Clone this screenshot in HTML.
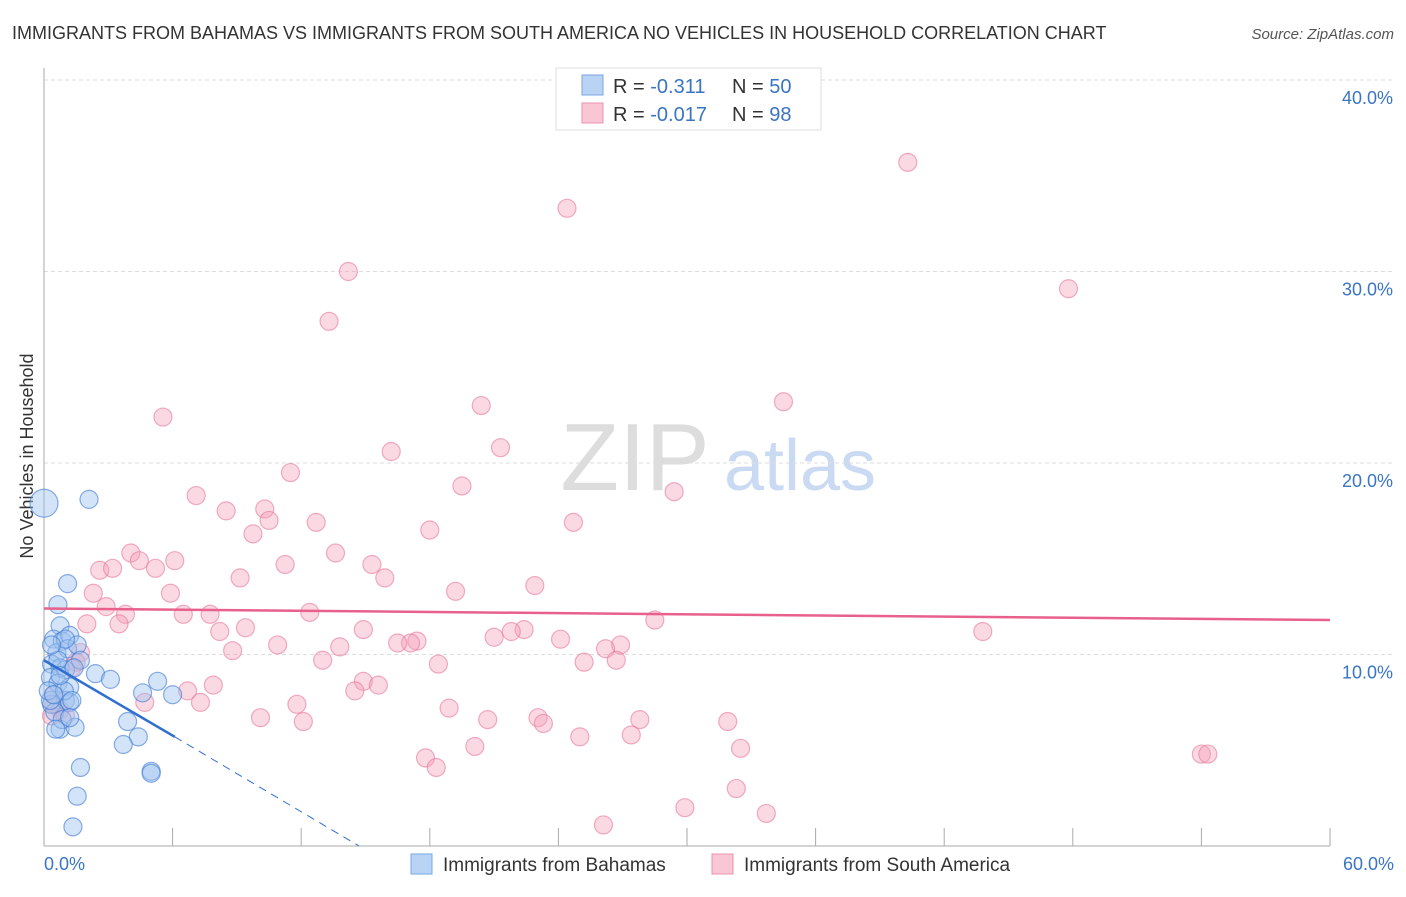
<!DOCTYPE html>
<html><head><meta charset="utf-8"><style>
body{margin:0;background:#fff;font-family:"Liberation Sans",sans-serif;}
svg text{font-family:"Liberation Sans",sans-serif;}
</style></head><body>
<svg width="1406" height="892" xmlns="http://www.w3.org/2000/svg">
<text x="12" y="39" font-size="18" fill="#333">IMMIGRANTS FROM BAHAMAS VS IMMIGRANTS FROM SOUTH AMERICA NO VEHICLES IN HOUSEHOLD CORRELATION CHART</text>
<text x="1394" y="39" font-size="15" fill="#555" font-style="italic" text-anchor="end">Source: ZipAtlas.com</text>
<g><text x="635" y="490" font-size="96" fill="#ddd" font-family="Liberation Serif" text-anchor="middle">ZIP</text><text x="800" y="490" font-size="72" fill="#c9daf2" text-anchor="middle">atlas</text></g>
<g id="grid"></g>
<line x1="44" y1="68" x2="44" y2="846" stroke="#aaa"/>
<line x1="44" y1="846" x2="1330" y2="846" stroke="#aaa"/>
<text transform="translate(33,456) rotate(-90)" font-size="18" fill="#333" text-anchor="middle">No Vehicles in Household</text>
<text x="44" y="870" font-size="18" fill="#3a75c4">0.0%</text>
<text x="1394" y="870" font-size="18" fill="#3a75c4" text-anchor="end">60.0%</text>
<g id="pts"></g>
<g id="trends"></g>
<g>
<rect x="556" y="68" width="265" height="62" fill="#fff" stroke="#ddd"/>
<rect x="582" y="75" width="21" height="20" fill="#b9d3f4" stroke="#7aa6e0"/>
<rect x="582" y="103" width="21" height="20" fill="#f9c6d5" stroke="#ec93ae"/>
<text x="613" y="93" font-size="20" fill="#333">R = <tspan fill="#3a75c4"> -0.311</tspan><tspan x="732">N = </tspan><tspan fill="#3a75c4">50</tspan></text>
<text x="613" y="121" font-size="20" fill="#333">R = <tspan fill="#3a75c4">-0.017</tspan><tspan x="732">N = </tspan><tspan fill="#3a75c4">98</tspan></text>
</g>
<g>
<rect x="411" y="854" width="21" height="20" fill="#b9d3f4" stroke="#7aa6e0"/>
<text x="443" y="871" font-size="19" fill="#333">Immigrants from Bahamas</text>
<rect x="712" y="854" width="21" height="20" fill="#f9c6d5" stroke="#ec93ae"/>
<text x="744" y="871" font-size="19" fill="#333">Immigrants from South America</text>
</g>
</svg>
<script>
const yTicks=[10,20,30,40];
const yTickLabels=["10.0%","20.0%","30.0%","40.0%"];
const xTicks=[6,12,18,24,30,36,42,48,54,60];
const blueX=[0,2.1,1.1,0.65,0.75,0.45,0.85,1.2,0.6,1.1,1.55,0.35,0.75,1.0,0.3,0.65,1.2,2.4,3.1,4.6,5.3,6.0,3.9,4.4,3.7,5.0,5.0,1.7,1.55,1.35,0.75,1.45,1.0,1.2,0.35,0.5,0.85,0.3,0.2,0.65,1.0,0.35,1.7,0.95,1.3,0.55,1.2,0.75,0.45,1.4];
const blueY=[17.9,18.1,13.7,12.6,11.5,10.8,10.7,11.0,10.1,10.3,10.5,9.5,9.3,9.2,8.8,8.5,8.3,9.0,8.7,8.0,8.6,7.9,6.5,5.7,5.3,3.9,3.8,4.1,2.6,1.0,6.1,6.2,7.6,7.5,7.4,7.0,6.6,7.6,8.1,9.7,10.8,10.5,9.7,8.1,7.6,6.1,6.7,8.9,7.9,9.3];
const pinkX=[40.3,24.4,14.2,47.8,13.3,5.55,34.5,20.4,16.2,21.3,29.4,11.5,19.5,7.1,8.5,10.3,10.5,24.7,18.0,9.75,12.7,13.6,4.05,4.45,5.2,6.1,2.6,3.2,15.3,15.9,9.15,11.25,22.9,19.2,5.9,2.3,2.9,3.8,7.75,6.5,12.4,3.5,2.0,28.5,43.8,8.2,9.4,14.9,22.4,21.8,21.0,24.1,17.4,17.1,16.5,10.9,8.8,13.8,26.9,26.2,26.7,25.2,13.0,18.4,1.7,1.5,1.3,14.9,15.6,14.5,7.9,6.7,7.3,4.7,11.8,18.9,10.1,12.1,20.7,23.05,23.3,27.8,31.9,25.0,27.4,32.5,20.1,17.8,18.3,32.3,29.9,33.7,26.1,54.0,54.3,0.45,0.75,1.0,0.35,0.5];
const pinkY=[35.7,33.3,30.0,29.1,27.4,22.4,23.2,23.0,20.6,20.8,18.5,19.5,18.8,18.3,17.5,17.6,17.0,16.9,16.5,16.3,16.9,15.3,15.3,14.9,14.5,14.9,14.4,14.5,14.7,14.0,14.0,14.7,13.6,13.3,13.2,13.2,12.5,12.1,12.1,12.1,12.2,11.6,11.6,11.8,11.2,11.2,11.4,11.3,11.3,11.2,10.9,10.8,10.7,10.6,10.6,10.5,10.2,10.4,10.5,10.3,9.7,9.6,9.7,9.5,10.1,9.6,9.3,8.6,8.4,8.1,8.4,8.1,7.5,7.5,7.4,7.2,6.7,6.5,6.6,6.7,6.4,6.6,6.5,5.7,5.8,5.1,5.2,4.6,4.1,3.0,2.0,1.7,1.1,4.8,4.8,7.9,7.1,6.8,6.8,7.4];
const blueTrend=[[0,9.7],[6.1,5.7]];
const blueTrendExt=[[6.1,5.7],[14.7,0]];
const pinkTrend=[[0,12.4],[60,11.8]];
const X=v=>44+v*(1286/60);
const Y=v=>846-v*19.15;
const NS="http://www.w3.org/2000/svg";
function mk(t,a,p){const e=document.createElementNS(NS,t);for(const k in a)e.setAttribute(k,a[k]);p.appendChild(e);return e;}
const grid=document.getElementById('grid');
yTicks.forEach((v,i)=>{
 const l=mk('line',{x1:44,x2:1394,y1:Y(v),y2:Y(v),stroke:'#ddd','stroke-dasharray':'4,3'},grid);
 
 
 const t=mk('text',{x:1393,y:Y(v)+24,'font-size':18,fill:'#3a75c4','text-anchor':'end'},grid);
 t.textContent=yTickLabels[i];
 
 
});
xTicks.forEach(v=>{
 const l=mk('line',{x1:X(v),x2:X(v),y1:828,y2:846,stroke:'#aaa'},grid);
 
 
});
const pts=document.getElementById('pts');
pinkX.forEach((x,i)=>{
 const c=mk('circle',{cx:X(x),cy:Y(pinkY[i]),r:9,fill:'rgba(244,160,185,0.4)',stroke:'rgba(232,120,155,0.6)','stroke-width':1.2},pts);
 
 
});
blueX.forEach((x,i)=>{
 const c=mk('circle',{cx:X(x),cy:Y(blueY[i]),r:i===0?14:9,fill:'rgba(160,195,240,0.45)',stroke:'rgba(60,120,210,0.6)','stroke-width':1.2},pts);
 
 
});
const tr=document.getElementById('trends');
const pl=mk('line',{x1:X(pinkTrend[0][0]),y1:Y(pinkTrend[0][1]),x2:X(pinkTrend[1][0]),y2:Y(pinkTrend[1][1]),stroke:'#e8608c','stroke-width':2.5},tr);


const bl=mk('line',{x1:X(blueTrend[0][0]),y1:Y(blueTrend[0][1]),x2:X(blueTrend[1][0]),y2:Y(blueTrend[1][1]),stroke:'#2f6fd0','stroke-width':2.5},tr);


const bd=mk('line',{x1:X(blueTrendExt[0][0]),y1:Y(blueTrendExt[0][1]),x2:X(blueTrendExt[1][0]),y2:Y(blueTrendExt[1][1]),stroke:'#2f6fd0','stroke-width':1,'stroke-dasharray':'8,6'},tr);


</script>
</body></html>
